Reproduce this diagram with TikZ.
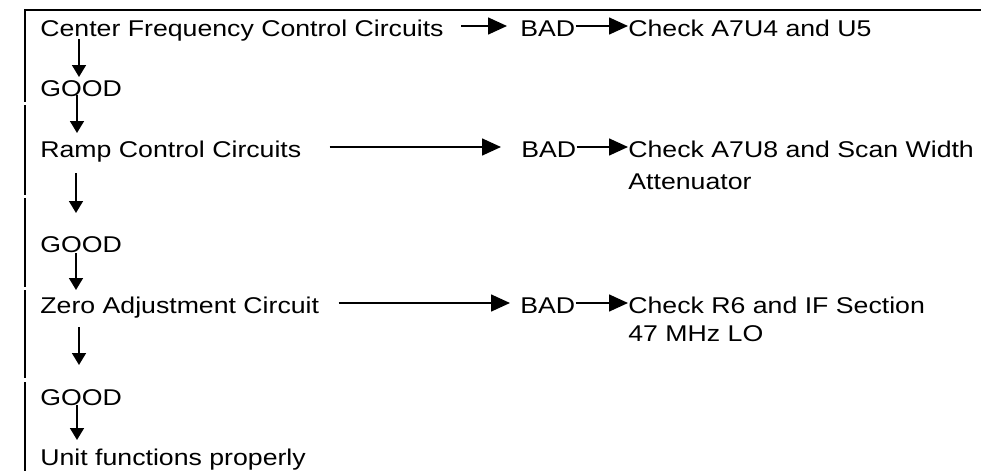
\documentclass[tikz,border=0pt]{standalone}
\usepackage{fontspec}
\setmainfont{Liberation Sans}[FakeStretch=1.17]
\usetikzlibrary{arrows.meta}

\begin{document}
\begin{tikzpicture}[x=.5pt,y=-.5pt,font=\fontsize{11.4}{14}\selectfont,
    lbl/.style={anchor=base west,inner sep=0pt},
    hArr/.style={line width=.8pt,-{Triangle[length=9.5pt,width=8.5pt]}},
    vArr/.style={line width=.8pt,-{Triangle[length=6pt,width=7pt]}},
    frame/.style={line width=1.2pt}]
    \useasboundingbox (0,0) rectangle (981,471);
    % Rahmen: oben durchgehend, links in Stuecken
    \draw[frame] (24,10) -- (981,10);
    \draw[line width=1pt] (25,10) -- (25,102) (25,105) -- (25,195)
      (25,198) -- (25,287) (25,290) -- (25,378) (25,382) -- (25,471);
    \node[lbl] (cfc) at (40,36) {Center Frequency Control Circuits};
    \node[lbl] (bad1) at (520,36) {BAD};
    \node[lbl] (chk1) at (628,36) {Check A7U4 and U5};
    \node[lbl] (good1) at (40,97) {GOOD};
    \node[lbl] (ramp) at (40,157) {Ramp Control Circuits};
    \node[lbl] (bad2) at (521,157) {BAD};
    \node[lbl] (chk2) at (628,157) {Check A7U8 and Scan Width};
    \node[lbl] (chk2b) at (628,189) {Attenuator};
    \node[lbl] (good2) at (40,252) {GOOD};
    \node[lbl] (zero) at (40,313) {Zero Adjustment Circuit};
    \node[lbl] (bad3) at (520,313) {BAD};
    \node[lbl] (chk3) at (628,313) {Check R6 and IF Section};
    \node[lbl] (chk3b) at (628,341) {47 MHz LO};
    \node[lbl] (good3) at (40,405) {GOOD};
    \node[lbl] (unit) at (40,465) {Unit functions properly};
    % BAD-Zweige
    \draw[hArr] ([shift={(17,-10)}]cfc.base east) -- ([shift={(-13,-10)}]bad1.base west);
    \draw[hArr] (bad1.base east) ++(0,-10) -- ([yshift=5pt]chk1.base west);
    \draw[hArr] ([shift={(28,-10)}]ramp.base east) -- ([shift={(-20,-10)}]bad2.base west);
    \draw[hArr] (bad2.base east) ++(0,-10) -- ([yshift=5pt]chk2.base west);
    \draw[hArr] ([shift={(19,-10)}]zero.base east) -- ([shift={(-10,-10)}]bad3.base west);
    \draw[hArr] (bad3.base east) ++(0,-10) -- ([yshift=5pt]chk3.base west);
    % GOOD-Kette
    \draw[vArr] ([shift={(39,3)}]cfc.base west) -- ([shift={(39,-20)}]good1.base west);
    \draw[vArr] ([shift={(37,-2)}]good1.base west) -- ([shift={(37,-24)}]ramp.base west);
    \draw[vArr] ([shift={(36,16)}]ramp.base west) -- ([shift={(36,-39)}]good2.base west);
    \draw[vArr] ([shift={(36,1)}]good2.base west) -- ([shift={(36,-23)}]zero.base west);
    \draw[vArr] ([shift={(39,14)}]zero.base west) -- ([shift={(39,-40)}]good3.base west);
    \draw[vArr] ([shift={(37,0)}]good3.base west) -- ([shift={(37,-25)}]unit.base west);
\end{tikzpicture}
\end{document}
